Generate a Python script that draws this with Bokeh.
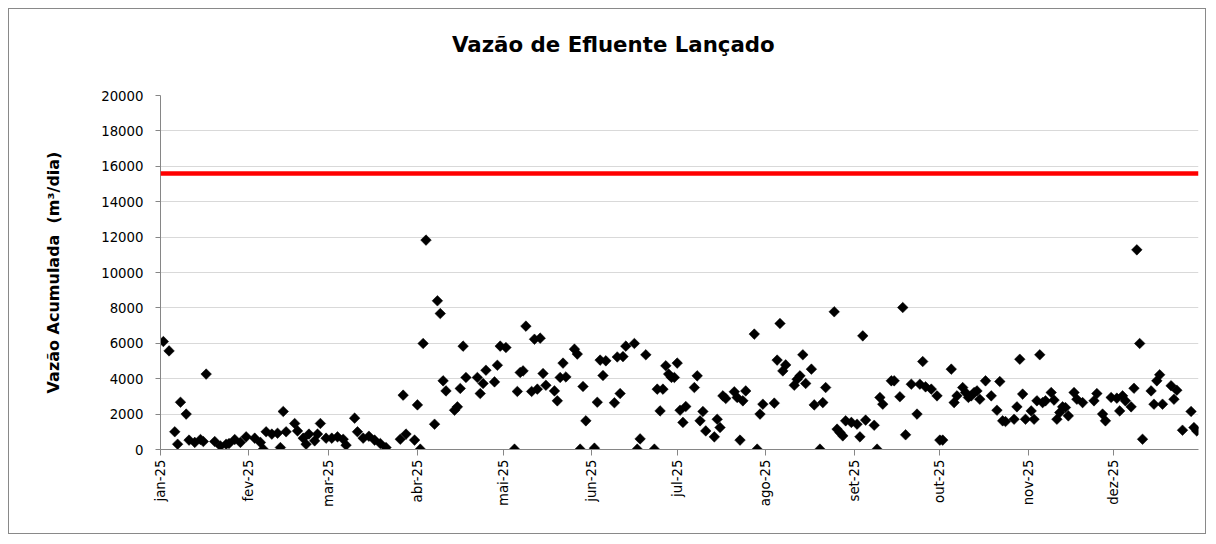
import numpy as np
import pandas as pd
from bokeh.plotting import figure
from bokeh.models import Range1d, FixedTicker, Span, Title
from bokeh.embed import file_html
from bokeh.resources import INLINE

titulo = "Vazão de Efluente Lançado"
rotulo_y = "Vazão Acumulada  (m³/dia)"
meses = ["jan-25", "fev-25", "mar-25", "abr-25", "mai-25", "jun-25",
         "jul-25", "ago-25", "set-25", "out-25", "nov-25", "dez-25"]
limite = 15600
ticks_y = [0, 2000, 4000, 6000, 8000, 10000, 12000, 14000, 16000, 18000, 20000]

# dias desde 01/01/2025
dias = [1, 3, 5, 6, 7, 9, 10, 12, 14, 15, 16, 19, 21, 23, 24, 26, 28, 30, 33, 35, 36, 37, 39,
        41, 42, 43, 44, 47, 48, 50, 51, 52, 54, 55, 56, 58, 60, 62, 64, 65, 68, 69, 71, 73, 75, 77, 79,
        84, 85, 86, 89, 90, 91, 92, 93, 96, 97, 98, 99, 100, 103, 104, 105, 106, 107, 111, 112, 113, 114,
        117, 118, 119, 121, 124, 125, 126, 127, 128, 130, 131, 132, 133, 134, 135, 138, 139, 140, 141, 142,
        145, 146, 147, 148, 149, 152, 153, 154, 155, 156, 159, 160, 161, 162, 163, 166, 167, 168, 170,
        173, 174, 175, 176, 177, 178, 179, 180, 181, 182, 183, 184, 187, 188, 189, 190, 191, 194, 195,
        196, 197, 198, 201, 202, 203, 204, 205, 208, 209, 210, 211, 215, 216, 217, 218, 219, 222, 223,
        224, 225, 226, 228, 229, 231, 232, 233, 236, 237, 238, 239, 240, 242, 244, 245, 246, 247, 250,
        251, 252, 253, 256, 257, 259, 260, 261, 263, 265, 266, 267, 268, 270, 272, 273, 274, 277, 278,
        279, 281, 282, 283, 284, 285, 286, 287, 289, 291, 293, 294, 295, 296, 299, 300, 301, 302, 303,
        305, 306, 307, 308, 309, 310, 312, 313, 314, 315, 316, 317, 318, 320, 321, 323, 327, 328, 330,
        331, 333, 335, 336, 337, 338, 340, 341, 342, 343, 344, 347, 348, 349, 350, 351, 354, 355, 356,
        358, 361, 362, 363]
vazao = [6100, 5570, 1000, 300, 2670, 2000, 530, 400, 565, 450, 4260, 450, 200, 300, 340, 565, 400, 715, 640, 400, 20, 1000, 870,
         920, 110, 2150, 1000, 1470, 1050, 640, 300, 870, 490, 870, 1470, 640, 640, 715, 580, 245, 1770, 1000, 640, 750, 530, 340, 110,
         580, 3070, 870, 530, 2520, 20, 5990, 11830, 1430, 8400, 7680, 3880, 3310, 2220, 2410, 3450, 5840, 4070, 4070, 3160, 3730, 4480,
         3820, 4760, 5840, 5760, 20, 3280, 4350, 4440, 6970, 3280, 6230, 3410, 6290, 4290, 3630, 3310, 2750, 4070, 4880, 4100,
         5670, 5390, 20, 3560, 1620, 75, 2670, 5050, 4180, 5010, 2640, 5230, 3160, 5250, 5840, 5990, 20, 600, 5350,
         20, 3410, 2180, 3410, 4730, 4260, 4070, 4070, 4880, 2220, 1530, 2430, 3500, 4160, 1620, 2150, 1050, 715, 1710,
         1240, 3030, 2880, 3260, 2940, 530, 2750, 3310, 6520, 20, 2000, 2560, 2620, 5050, 7120, 4440, 4780, 3630, 3970,
         4160, 5350, 3730, 4540, 2520, 20, 2650, 3500, 7780, 1150, 960, 770, 1620, 1530, 1430, 715, 6420, 1660, 1370,
         20, 2940, 2560, 3880, 3880, 2980, 8020, 830, 3690, 2000, 3690, 4970, 3540, 3410, 3030, 530, 530, 4540, 2650,
         3030, 3500, 3220, 2940, 3030, 3220, 3310, 2840, 3880, 3030, 2220, 3840, 1620, 1580, 1710, 2410, 5100, 3130, 1710,
         2180, 1710, 2750, 5350, 2650, 2750, 3220, 2790, 1710, 2090, 2410, 2370, 1900, 3220, 2840, 2650, 2750, 3160, 2000,
         1620, 2940, 2900, 2180, 3030, 2750, 2410, 3460, 11280, 5990, 580, 3310, 2560, 3880, 4220, 2560, 3600, 2840, 3350,
         1090, 2150, 1240, 1050]

inicio_mes = [int(pd.Timestamp(f"2025-{m:02d}-01").dayofyear) - 1 for m in range(1, 13)]

FONT = "DejaVu Sans"
TITLE_SIZE = 21.3
title_width = 15.256 * TITLE_SIZE

p = figure(width=1198, height=526, output_backend="svg", toolbar_location=None,
           x_range=Range1d(0, 363.6), y_range=Range1d(0, 20000),
           min_border_left=151, min_border_right=9, min_border_top=86, min_border_bottom=86)
p.styles = {"border": "1px solid #898989", "margin-left": "8px", "margin-top": "8px"}
p.outline_line_color = None
p.background_fill_color = "white"
p.border_fill_color = "white"

# spacer between frame and title (pushes title upward)
p.add_layout(Title(text=" ", text_font_size="10px", standoff=21, text_color="white"), "above")

p.title.text = titulo
p.title.text_font = FONT
p.title.text_font_size = f"{TITLE_SIZE}px"
p.title.text_font_style = "bold"
p.title.text_color = "black"
p.title.align = "left"
p.title.offset = 454 - title_width / 2
p.title.standoff = 10

p.add_layout(Span(location=limite, dimension="width", line_color="#ff0000", line_width=4.5))

p.scatter(dias, vazao, marker="square", angle=np.pi / 4, size=7.5,
          fill_color="black", line_color="black", line_width=0.5)

p.xgrid.visible = False
p.ygrid.grid_line_color = "#d9d9d9"
p.ygrid.grid_line_width = 1.2

p.yaxis.ticker = FixedTicker(ticks=ticks_y)
p.yaxis.minor_tick_line_color = None
p.yaxis.major_tick_out = 5
p.yaxis.major_tick_in = 0
p.yaxis.axis_line_color = "#868686"
p.yaxis.major_tick_line_color = "#868686"
p.yaxis.major_label_text_font = FONT
p.yaxis.major_label_text_font_size = "13.3px"
p.yaxis.major_label_text_color = "black"
p.yaxis.major_label_standoff = 12
p.yaxis.axis_label = rotulo_y.replace("  ", "\u00a0 ")
p.yaxis.axis_label_text_font = FONT
p.yaxis.axis_label_text_font_size = "16px"
p.yaxis.axis_label_text_font_style = "bold"
p.yaxis.axis_label_text_color = "black"
p.yaxis.axis_label_standoff = 35

p.xaxis.ticker = FixedTicker(ticks=inicio_mes)
p.xaxis.major_label_overrides = dict(zip(inicio_mes, meses))
p.xaxis.major_label_orientation = np.pi / 2
p.xaxis.minor_tick_line_color = None
p.xaxis.major_tick_out = 6
p.xaxis.major_tick_in = 0
p.xaxis.axis_line_color = "#868686"
p.xaxis.major_tick_line_color = "#868686"
p.xaxis.major_label_text_font = FONT
p.xaxis.major_label_text_font_size = "13.3px"
p.xaxis.major_label_text_color = "black"
p.xaxis.major_label_standoff = 4

open("out.html", "w").write(file_html(p, INLINE))
